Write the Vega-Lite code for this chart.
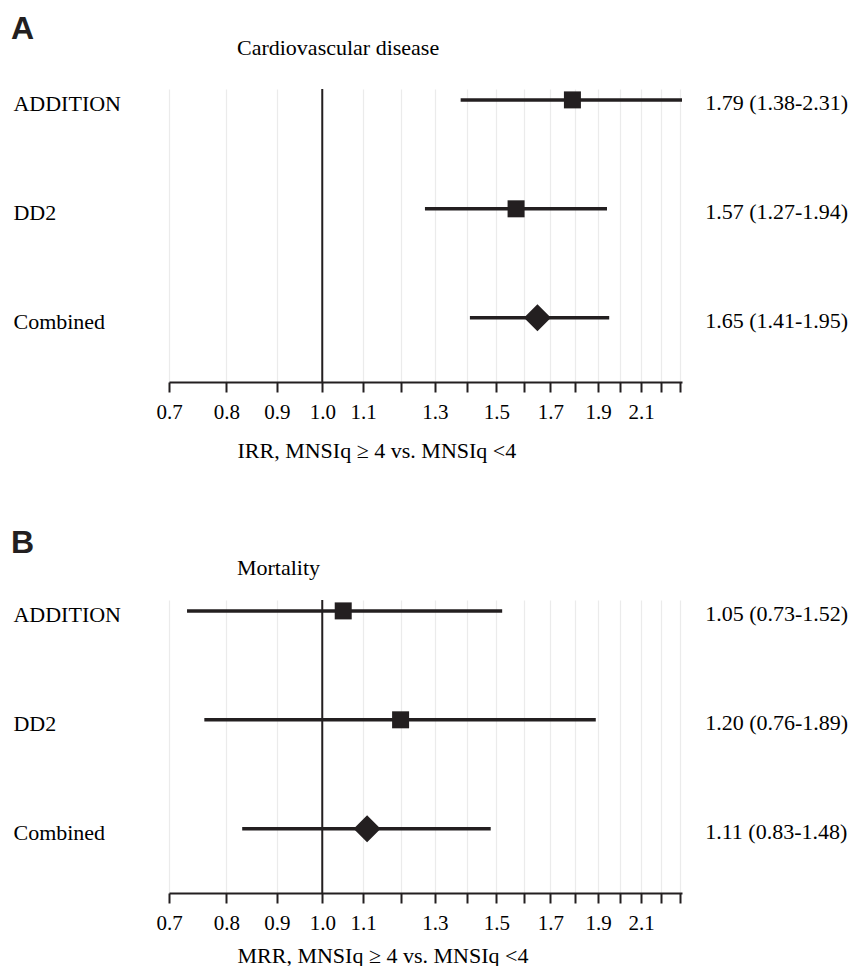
{
  "$schema": "https://vega.github.io/schema/vega-lite/v6.json",
  "background": "white",
  "padding": {"left": 10, "top": 13, "right": 0, "bottom": 0},
  "bounds": "flush",
  "spacing": 218,
  "config": {
    "view": {"stroke": null},
    "font": "Liberation Serif",
    "axisX": {
      "labelFont": "Liberation Serif",
      "labelFontSize": 21,
      "labelColor": "#000000",
      "labelPadding": 9.5,
      "labelFlush": false,
      "labelOverlap": false,
      "domainColor": "#231f20",
      "domainWidth": 2,
      "tickColor": "#231f20",
      "tickWidth": 2,
      "tickSize": 10,
      "grid": true,
      "gridColor": "#ebebeb",
      "gridWidth": 1.2,
      "titleFont": "Liberation Serif",
      "titleFontSize": 22,
      "titleFontWeight": "normal",
      "titleColor": "#000000",
      "titleAnchor": "start",
      "titleAlign": "left",
      "titleBaseline": "alphabetic",
      "titleX": 68
    }
  },
  "datasets": {
    "forest": [
      {"panel": "A", "study": "ADDITION", "row": 1, "est": 1.79, "lo": 1.38, "hi": 2.31, "type": "study", "label": "1.79 (1.38-2.31)"},
      {"panel": "A", "study": "DD2", "row": 2, "est": 1.57, "lo": 1.27, "hi": 1.94, "type": "study", "label": "1.57 (1.27-1.94)"},
      {"panel": "A", "study": "Combined", "row": 3, "est": 1.65, "lo": 1.41, "hi": 1.95, "type": "pooled", "label": "1.65 (1.41-1.95)"},
      {"panel": "B", "study": "ADDITION", "row": 1, "est": 1.05, "lo": 0.73, "hi": 1.52, "type": "study", "label": "1.05 (0.73-1.52)"},
      {"panel": "B", "study": "DD2", "row": 2, "est": 1.20, "lo": 0.76, "hi": 1.89, "type": "study", "label": "1.20 (0.76-1.89)"},
      {"panel": "B", "study": "Combined", "row": 3, "est": 1.11, "lo": 0.83, "hi": 1.48, "type": "pooled", "label": "1.11 (0.83-1.48)"}
    ],
    "headings": [
      {"panel": "A", "letter": "A", "heading": "Cardiovascular disease"},
      {"panel": "B", "letter": "B", "heading": "Mortality"}
    ],
    "reference": [{"ref": 1}]
  },
  "vconcat": [
    {
      "width": 513,
      "height": 293,
      "layer": [
        {
          "data": {"name": "reference"},
          "mark": {"type": "rule", "color": "#231f20", "strokeWidth": 2},
          "encoding": {
            "x": {
              "field": "ref", "type": "quantitative",
              "scale": {"type": "log", "domain": [0.7, 2.31], "nice": false},
              "title": "IRR, MNSIq ≥ 4 vs. MNSIq <4",
              "axis": {
                "values": [0.7, 0.8, 0.9, 1, 1.1, 1.2, 1.3, 1.4, 1.5, 1.6, 1.7, 1.8, 1.9, 2, 2.1, 2.2, 2.3],
                "format": ".1f",
                "labelExpr": "indexof(['1.2','1.4','1.6','1.8','2.0','2.2','2.3'], datum.label) >= 0 ? '' : datum.label",
                "titleY": 75
              }
            }
          }
        },
        {
          "data": {"name": "forest"},
          "transform": [{"filter": "datum.panel === 'A'"}],
          "layer": [
            {
              "mark": {"type": "rule", "color": "#231f20", "strokeWidth": 3.5, "strokeCap": "butt"},
              "encoding": {
                "x": {"field": "lo", "type": "quantitative", "title": "IRR, MNSIq ≥ 4 vs. MNSIq <4"},
                "x2": {"field": "hi"},
                "y": {"field": "row", "type": "quantitative", "scale": {"domain": [0.9, 3.59], "reverse": true, "nice": false, "zero": false}, "axis": null}
              }
            },
            {
              "mark": {"type": "point", "filled": true, "opacity": 1, "color": "#231f20", "strokeWidth": 0},
              "encoding": {
                "x": {"field": "est", "type": "quantitative", "title": "IRR, MNSIq ≥ 4 vs. MNSIq <4"},
                "y": {"field": "row", "type": "quantitative"},
                "shape": {"field": "type", "type": "nominal", "scale": {"domain": ["study", "pooled"], "range": ["square", "diamond"]}, "legend": null},
                "size": {"field": "type", "type": "ordinal", "scale": {"domain": ["study", "pooled"], "range": [289, 729]}, "legend": null}
              }
            },
            {
              "mark": {"type": "text", "align": "left", "baseline": "alphabetic", "dy": 11, "fontSize": 22, "font": "Liberation Serif", "color": "#000000"},
              "encoding": {
                "x": {"datum": 0.4874},
                "y": {"field": "row", "type": "quantitative"},
                "text": {"field": "study"}
              }
            },
            {
              "mark": {"type": "text", "align": "left", "baseline": "alphabetic", "dy": 10, "fontSize": 22, "font": "Liberation Serif", "color": "#000000"},
              "encoding": {
                "x": {"datum": 2.438},
                "y": {"field": "row", "type": "quantitative"},
                "text": {"field": "label"}
              }
            }
          ]
        },
        {
          "data": {"name": "headings"},
          "transform": [{"filter": "datum.panel === 'A'"}],
          "layer": [
            {
              "mark": {"type": "text", "align": "left", "baseline": "alphabetic", "fontSize": 32, "font": "Liberation Sans", "fontWeight": "bold", "color": "#231f20"},
              "encoding": {"x": {"datum": 0.4845}, "y": {"datum": 0.441}, "text": {"field": "letter"}}
            },
            {
              "mark": {"type": "text", "align": "left", "baseline": "alphabetic", "fontSize": 22, "font": "Liberation Serif", "color": "#000000"},
              "encoding": {"x": {"datum": 0.82}, "y": {"datum": 0.588}, "text": {"field": "heading"}}
            }
          ]
        }
      ]
    },
    {
      "width": 513,
      "height": 293,
      "layer": [
        {
          "data": {"name": "reference"},
          "mark": {"type": "rule", "color": "#231f20", "strokeWidth": 2},
          "encoding": {
            "x": {
              "field": "ref", "type": "quantitative",
              "scale": {"type": "log", "domain": [0.7, 2.31], "nice": false},
              "title": "MRR, MNSIq ≥ 4 vs. MNSIq <4",
              "axis": {
                "values": [0.7, 0.8, 0.9, 1, 1.1, 1.2, 1.3, 1.4, 1.5, 1.6, 1.7, 1.8, 1.9, 2, 2.1, 2.2, 2.3],
                "format": ".1f",
                "labelExpr": "indexof(['1.2','1.4','1.6','1.8','2.0','2.2','2.3'], datum.label) >= 0 ? '' : datum.label",
                "titleY": 69
              }
            }
          }
        },
        {
          "data": {"name": "forest"},
          "transform": [{"filter": "datum.panel === 'B'"}],
          "layer": [
            {
              "mark": {"type": "rule", "color": "#231f20", "strokeWidth": 3.5, "strokeCap": "butt"},
              "encoding": {
                "x": {"field": "lo", "type": "quantitative", "title": "MRR, MNSIq ≥ 4 vs. MNSIq <4"},
                "x2": {"field": "hi"},
                "y": {"field": "row", "type": "quantitative", "scale": {"domain": [0.9, 3.59], "reverse": true, "nice": false, "zero": false}, "axis": null}
              }
            },
            {
              "mark": {"type": "point", "filled": true, "opacity": 1, "color": "#231f20", "strokeWidth": 0},
              "encoding": {
                "x": {"field": "est", "type": "quantitative", "title": "MRR, MNSIq ≥ 4 vs. MNSIq <4"},
                "y": {"field": "row", "type": "quantitative"},
                "shape": {"field": "type", "type": "nominal", "scale": {"domain": ["study", "pooled"], "range": ["square", "diamond"]}, "legend": null},
                "size": {"field": "type", "type": "ordinal", "scale": {"domain": ["study", "pooled"], "range": [289, 729]}, "legend": null}
              }
            },
            {
              "mark": {"type": "text", "align": "left", "baseline": "alphabetic", "dy": 11, "fontSize": 22, "font": "Liberation Serif", "color": "#000000"},
              "encoding": {
                "x": {"datum": 0.4874},
                "y": {"field": "row", "type": "quantitative"},
                "text": {"field": "study"}
              }
            },
            {
              "mark": {"type": "text", "align": "left", "baseline": "alphabetic", "dy": 10, "fontSize": 22, "font": "Liberation Serif", "color": "#000000"},
              "encoding": {
                "x": {"datum": 2.438},
                "y": {"field": "row", "type": "quantitative"},
                "text": {"field": "label"}
              }
            }
          ]
        },
        {
          "data": {"name": "headings"},
          "transform": [{"filter": "datum.panel === 'B'"}],
          "layer": [
            {
              "mark": {"type": "text", "align": "left", "baseline": "alphabetic", "fontSize": 32, "font": "Liberation Sans", "fontWeight": "bold", "color": "#231f20"},
              "encoding": {"x": {"datum": 0.4845}, "y": {"datum": 0.469}, "text": {"field": "letter"}}
            },
            {
              "mark": {"type": "text", "align": "left", "baseline": "alphabetic", "fontSize": 22, "font": "Liberation Serif", "color": "#000000"},
              "encoding": {"x": {"datum": 0.82}, "y": {"datum": 0.671}, "text": {"field": "heading"}}
            }
          ]
        }
      ]
    }
  ]
}
